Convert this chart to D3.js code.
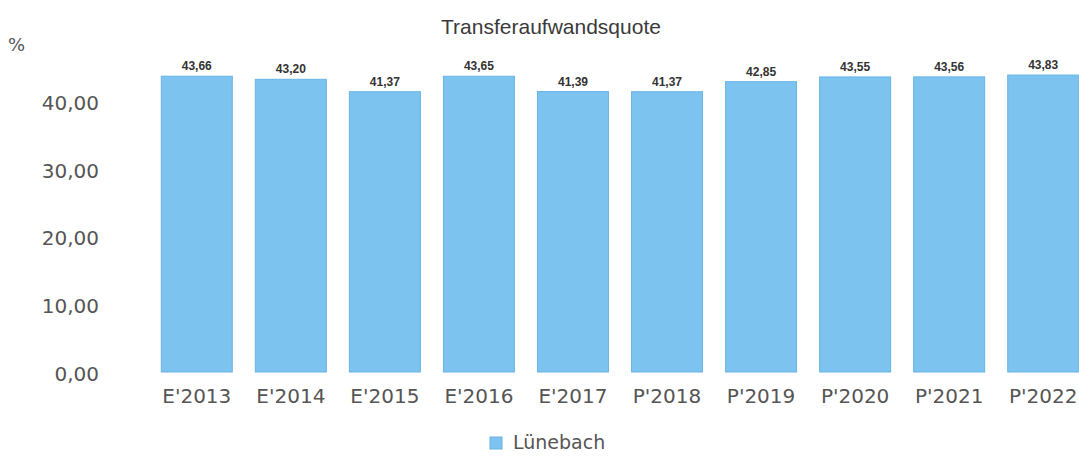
<!DOCTYPE html>
<html>
<head>
<meta charset="utf-8">
<script src="https://cdn.jsdelivr.net/npm/d3@7"></script>
<style>
  body { margin: 0; background: #fff; }
</style>
</head>
<body>
<script>
// Data
var years = ["E'2013", "E'2014", "E'2015", "E'2016", "E'2017", "P'2018", "P'2019", "P'2020", "P'2021", "P'2022"];
var quote = [43.66, 43.20, 41.37, 43.65, 41.39, 41.37, 42.85, 43.55, 43.56, 43.83];
var yTicks = [0, 10, 20, 30, 40];
var seriesName = "Lünebach";

var w = 1079, h = 459;

var svg = d3.select("body").append("svg")
            .attr("width", w)
            .attr("height", h);

// scales
var xScale = d3.scaleBand()
               .domain(years)
               .range([150, 1090])
               .paddingInner(0.245)
               .paddingOuter(0.12);

var yScale = d3.scaleLinear()
               .domain([0, 40])
               .range([372, 101]);

var fmt = function(v) { return v.toFixed(2).replace(".", ","); };

// title
svg.append("text")
   .attr("x", 551)
   .attr("y", 34)
   .attr("text-anchor", "middle")
   .style("font-family", "Liberation Sans, Arial, sans-serif")
   .style("font-size", "21px")
   .attr("fill", "#3a3a3a")
   .text("Transferaufwandsquote");

// unit label
svg.append("text")
   .attr("x", 8)
   .attr("y", 51)
   .style("font-family", "DejaVu Sans, sans-serif")
   .style("font-size", "18px")
   .attr("fill", "#555")
   .text("%");

// y axis (labels only)
var yAxis = d3.axisLeft(yScale)
              .tickValues(yTicks)
              .tickFormat(fmt)
              .tickSize(0)
              .tickPadding(0);

var gy = svg.append("g")
            .attr("transform", "translate(99, 2)")
            .call(yAxis);
gy.select(".domain").remove();
gy.selectAll("text")
  .style("font-family", "DejaVu Sans, sans-serif")
  .style("font-size", "20px")
  .attr("fill", "#555");

// bars
svg.selectAll("rect.bar")
   .data(quote)
   .enter()
   .append("rect")
   .attr("class", "bar")
   .attr("x", (d, i) => xScale(years[i]))
   .attr("y", d => yScale(d))
   .attr("width", xScale.bandwidth())
   .attr("height", d => yScale(0) - yScale(d))
   .attr("fill", "#7cc3f0")
   .attr("stroke", "#68b4e6")
   .attr("stroke-width", 1);

// value labels
svg.selectAll("text.val")
   .data(quote)
   .enter()
   .append("text")
   .attr("class", "val")
   .attr("x", (d, i) => xScale(years[i]) + xScale.bandwidth() / 2)
   .attr("y", d => yScale(d) - 6)
   .attr("text-anchor", "middle")
   .style("font-family", "Liberation Sans, Arial, sans-serif")
   .style("font-size", "12px")
   .style("font-weight", "bold")
   .attr("fill", "#333")
   .text(fmt);

// x axis
var xAxis = d3.axisBottom(xScale).tickSize(0).tickPadding(0);
var gx = svg.append("g")
            .attr("transform", "translate(0, 403)")
            .call(xAxis);
gx.select(".domain").remove();
gx.selectAll("text")
  .attr("dy", 0)
  .style("font-family", "DejaVu Sans, sans-serif")
  .style("font-size", "20px")
  .attr("fill", "#555");

// legend
var legend = svg.append("g").attr("transform", "translate(490, 437)");
legend.append("rect")
      .attr("width", 12)
      .attr("height", 12)
      .attr("fill", "#7cc3f0")
      .attr("stroke", "#68b4e6");
legend.append("text")
      .attr("x", 23)
      .attr("y", 12)
      .style("font-family", "DejaVu Sans, sans-serif")
      .style("font-size", "19px")
      .attr("fill", "#555")
      .text(seriesName);
</script>
</body>
</html>
